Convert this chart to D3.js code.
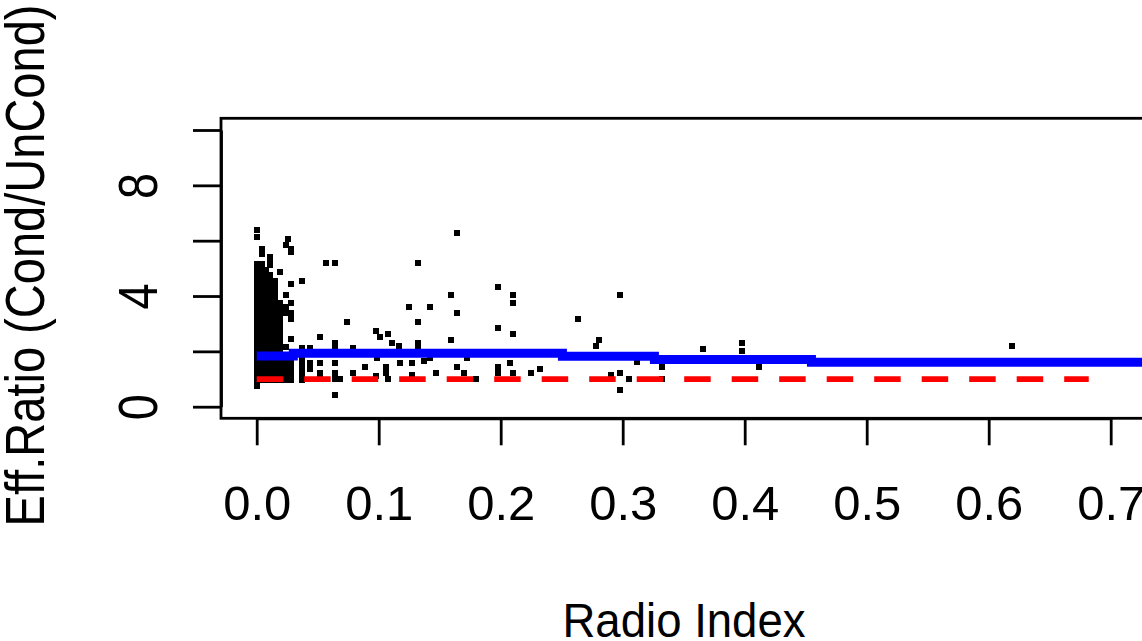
<!DOCTYPE html>
<meta charset="utf-8">
<head>
  <title>Eff.Ratio vs Radio Index</title>
</head>

<style>
body {
  margin: 0;
  background: #fff;
}
text {
  font-family: "Liberation Sans", Arial, sans-serif;
  fill: #000;
}
</style>

<body>
  <div id="content">
    <svg width="1142" height="641"></svg>
  </div>

  <script src="https://cdnjs.cloudflare.com/ajax/libs/d3/7.8.5/d3.min.js"></script>

  <script>
// Dense columns of points near Radio Index = 0 : [x, [y values]]
var pointColumns = [
  [0.000, [0.75, 0.95, 1.15, 1.35, 1.55, 1.75, 1.95, 2.15, 2.35, 2.55, 2.75, 2.95, 3.15, 3.35, 3.55, 3.75, 3.95, 4.15, 4.35, 4.55, 4.75, 4.95, 5.15, 6.12, 6.38]],
  [0.004, [0.95, 1.15, 1.35, 1.55, 1.75, 1.95, 2.15, 2.35, 2.55, 2.75, 2.95, 3.15, 3.35, 3.55, 3.75, 3.95, 4.15, 4.35, 4.55, 4.75, 4.95, 5.15, 5.53, 5.71]],
  [0.008, [0.95, 1.15, 1.35, 1.55, 1.75, 1.95, 2.15, 2.35, 2.55, 2.75, 2.95, 3.15, 3.35, 3.55, 3.75, 3.95, 4.15, 4.35, 4.55, 4.75, 4.95]],
  [0.011, [0.95, 1.15, 1.35, 1.55, 1.75, 1.95, 2.15, 2.35, 2.55, 2.75, 2.95, 3.15, 3.35, 3.55, 3.75, 3.95, 4.15, 4.35, 4.55, 4.75, 5.11, 5.23, 5.41]],
  [0.015, [0.95, 1.15, 1.35, 1.55, 1.75, 1.95, 2.15, 2.35, 2.55, 2.75, 2.95, 3.15, 3.35, 3.55, 3.75, 3.95, 4.15, 4.35, 4.53]],
  [0.019, [0.95, 1.15, 1.35, 1.55, 1.75, 1.95, 2.15, 2.35, 2.55, 2.75, 2.95, 3.15, 3.35, 3.55, 3.75, 4.87]],
  [0.024, [0.95, 1.15, 1.35, 1.55, 1.75, 2.17, 3.40, 3.60, 4.02, 5.85]],
  [0.028, [0.95, 1.15, 1.35, 1.55, 1.75, 2.43, 3.16, 3.40, 3.73, 4.45, 5.59, 5.71]],
  [0.026, [6.07]],
  [0.037, [0.95, 1.15, 1.35, 1.55, 1.75, 2.11, 4.53]],
  [0.044, [1.35, 1.57, 2.11]],
  [0.052, [1.00, 1.23, 1.57, 2.53]],
  [0.057, [5.19]],
  [0.064, [0.43, 1.00, 1.20, 1.57, 2.19, 2.31, 5.19]],
  [0.068, [1.00]],
  [0.074, [3.07]],
  [0.079, [1.23, 2.11]]
];

// Remaining scattered points : [x, y]
var points = [
  [0.0885, 1.45], [0.098, 2.74], [0.0985, 1.75], [0.098, 1.10], [0.101, 2.53],
  [0.106, 1.45], [0.106, 1.23], [0.108, 2.64], [0.108, 1.00], [0.111, 2.31],
  [0.117, 2.19], [0.1175, 1.57], [0.125, 3.61], [0.127, 1.57], [0.127, 1.15],
  [0.132, 5.19], [0.132, 3.07], [0.132, 2.31], [0.132, 2.19], [0.137, 1.66],
  [0.142, 3.61], [0.142, 1.75], [0.147, 1.23], [0.159, 4.02], [0.159, 2.42],
  [0.164, 6.27], [0.164, 3.40], [0.164, 1.45], [0.170, 1.23], [0.172, 1.75],
  [0.180, 1.00], [0.1975, 4.33], [0.1975, 2.85], [0.1975, 1.45], [0.1975, 1.21],
  [0.2075, 1.57], [0.210, 4.02], [0.210, 3.73], [0.210, 2.64], [0.210, 1.23],
  [0.225, 1.23], [0.232, 1.35], [0.2636, 3.18], [0.278, 2.19], [0.2806, 2.41],
  [0.290, 1.15], [0.298, 4.02], [0.298, 1.23], [0.298, 0.60], [0.305, 1.00],
  [0.312, 1.63], [0.332, 1.45], [0.332, 1.00], [0.366, 2.08], [0.398, 2.31],
  [0.398, 2.00], [0.412, 1.45], [0.619, 2.19]
];

// Blue step line
var stepX = [0, 0.030, 0.2506, 0.326, 0.4547, 0.745];
var stepY = [1.83, 1.93, 1.82, 1.71, 1.605, 1.605];

// Red dashed reference line
var refX = [0, 0.682];
var refY = [1, 1];

var xTicks = [0, 0.1, 0.2, 0.3, 0.4, 0.5, 0.6, 0.7];
var yTicks = [0, 2, 4, 6, 8, 10];
var yLabelled = [0, 4, 8];

var svg = d3.select('#content svg');

var boxLeft = 221, boxTop = 118.3, boxBottom = 418.3, boxRight = 1200;

var x = d3.scaleLinear().domain([0, 0.7]).range([256.7, 1110.7]);
var y = d3.scaleLinear().domain([0, 10]).range([406.7, 130]);

svg.append('rect')
  .attr('width', 1142).attr('height', 641)
  .attr('fill', '#fff');

// points
var allPoints = [];
pointColumns.forEach(function(c) {
  c[1].forEach(function(v) { allPoints.push([c[0], v]); });
});
allPoints = allPoints.concat(points);

svg.append('g')
  .selectAll('rect')
  .data(allPoints)
  .enter().append('rect')
  .attr('x', function(d) { return x(d[0]) - 3; })
  .attr('y', function(d) { return y(d[1]) - 3; })
  .attr('width', 6)
  .attr('height', 6)
  .attr('fill', '#000')
  .attr('shape-rendering', 'crispEdges');

// blue step line
var stepLine = d3.line()
  .x(function(d) { return x(d[0]); })
  .y(function(d) { return y(d[1]); })
  .curve(d3.curveStepAfter);

svg.append('path')
  .datum(d3.zip(stepX, stepY))
  .attr('d', stepLine)
  .attr('fill', 'none')
  .attr('stroke', '#0000ff')
  .attr('stroke-width', 9);

// red dashed line
svg.append('path')
  .datum(d3.zip(refX, refY))
  .attr('d', d3.line().x(function(d) { return x(d[0]); }).y(function(d) { return y(d[1]); }))
  .attr('fill', 'none')
  .attr('stroke', '#ff0000')
  .attr('stroke-width', 5.7)
  .attr('stroke-dasharray', '26.5,21');

// plot box
svg.append('rect')
  .attr('x', boxLeft).attr('y', boxTop)
  .attr('width', boxRight - boxLeft).attr('height', boxBottom - boxTop)
  .attr('fill', 'none')
  .attr('stroke', '#000')
  .attr('stroke-width', 2.8);

// x axis
var xAxis = svg.append('g')
  .attr('transform', 'translate(0,' + boxBottom + ')')
  .call(d3.axisBottom(x).tickValues(xTicks).tickSize(27).tickSizeOuter(0)
    .tickFormat(d3.format('.1f')));
xAxis.selectAll('line, path').attr('stroke', '#000').attr('stroke-width', 2.8);
xAxis.selectAll('text')
  .attr('y', 520 - boxBottom)
  .attr('dy', 0)
  .style('font-size', '49px')
  .style('font-family', '"Liberation Sans", Arial, sans-serif');

// y axis
var yAxis = svg.append('g')
  .attr('transform', 'translate(' + boxLeft + ',0)')
  .call(d3.axisLeft(y).tickValues(yTicks).tickSize(28).tickSizeOuter(0)
    .tickFormat(function(d) { return yLabelled.indexOf(d) >= 0 ? d : ''; }));
yAxis.selectAll('line, path').attr('stroke', '#000').attr('stroke-width', 2.8);
yAxis.selectAll('text')
  .attr('x', 0)
  .attr('dy', 0)
  .attr('text-anchor', 'middle')
  .attr('transform', 'translate(' + (156.7 - boxLeft) + ',0) rotate(-90) scale(0.84,1)')
  .style('font-size', '56px')
  .style('font-family', '"Liberation Sans", Arial, sans-serif');

// axis titles
svg.append('text')
  .attr('transform', 'translate(684,636.7) scale(0.93,1)')
  .attr('text-anchor', 'middle')
  .style('font-size', '49px')
  .text('Radio Index');

svg.append('text')
  .attr('transform', 'translate(43.5,265.5) rotate(-90) scale(0.84,1)')
  .attr('text-anchor', 'middle')
  .style('font-size', '56px')
  .text('Eff.Ratio (Cond/UnCond)');
  </script>
</body>
</html>
